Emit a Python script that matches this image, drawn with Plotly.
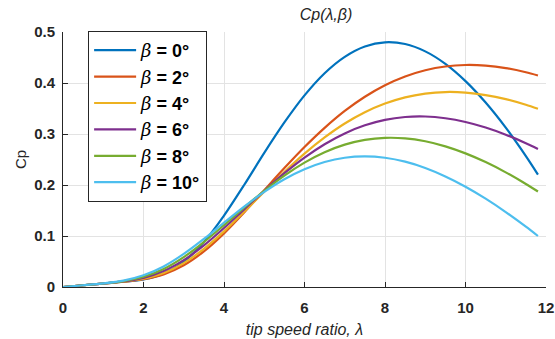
import plotly.graph_objects as go

tsr = [0, 0.5, 1, 1.5, 2, 2.5, 3, 3.5, 4, 4.5, 5, 5.5, 6, 6.5, 7, 7.5, 8, 8.5, 9, 9.5, 10, 10.5, 11, 11.5, 11.8]

cp_b0 = [0, 0.0034, 0.0068, 0.0103, 0.0150, 0.0261, 0.0495, 0.0882, 0.140, 0.200, 0.263, 0.3226, 0.3757, 0.4192, 0.4513, 0.4716, 0.4798, 0.4764, 0.462, 0.4375, 0.4037, 0.3617, 0.3125, 0.2567, 0.2205]
cp_b2 = [0, 0.0034, 0.0068, 0.0103, 0.0152, 0.0248, 0.0426, 0.0698, 0.1052, 0.1462, 0.1897, 0.2331, 0.2744, 0.312, 0.3452, 0.373, 0.3956, 0.4128, 0.425, 0.4324, 0.4353, 0.4341, 0.4293, 0.4211, 0.4148]
cp_b4 = [0, 0.0034, 0.0068, 0.0105, 0.0163, 0.0275, 0.0469, 0.0747, 0.109, 0.1474, 0.187, 0.2256, 0.2615, 0.2933, 0.3206, 0.3427, 0.3597, 0.3719, 0.3792, 0.3823, 0.3812, 0.3764, 0.3684, 0.3573, 0.3494]
cp_b6 = [0, 0.0034, 0.0068, 0.0109, 0.0179, 0.0312, 0.0526, 0.0815, 0.1156, 0.1522, 0.1886, 0.2231, 0.2538, 0.28, 0.3012, 0.317, 0.3277, 0.3333, 0.3343, 0.3309, 0.3236, 0.3127, 0.2987, 0.2819, 0.2706]
cp_b8 = [0, 0.0034, 0.0069, 0.0115, 0.0201, 0.0355, 0.0587, 0.0882, 0.1214, 0.1557, 0.1887, 0.2185, 0.2439, 0.2642, 0.2791, 0.2884, 0.2924, 0.2914, 0.2857, 0.2758, 0.262, 0.2449, 0.2248, 0.202, 0.1872]
cp_b10 = [0, 0.0034, 0.0071, 0.0125, 0.0229, 0.0403, 0.0648, 0.0942, 0.1261, 0.1576, 0.1864, 0.2113, 0.2309, 0.2451, 0.2535, 0.2561, 0.2534, 0.2457, 0.2334, 0.2168, 0.1967, 0.1733, 0.147, 0.1183, 0.100]

betas = ["0", "2", "4", "6", "8", "10"]
series = [cp_b0, cp_b2, cp_b4, cp_b6, cp_b8, cp_b10]
colors = ["#0072BD", "#D95319", "#EDB120", "#7E2F8E", "#77AC30", "#4DBEEE"]

x_ticks = [0, 2, 4, 6, 8, 10, 12]
y_ticks = [0, 0.1, 0.2, 0.3, 0.4, 0.5]
y_ticklabels = ["0", "0.1", "0.2", "0.3", "0.4", "0.5"]

FONT = "Liberation Sans, Arial, sans-serif"

fig = go.Figure()
for b, ys, c in zip(betas, series, colors):
    name = ("<span style='font-family:DejaVu Serif;font-weight:normal'><i>β</i></span>"
            "<b> = " + b + "°</b>")
    fig.add_trace(go.Scatter(x=tsr, y=ys, mode="lines", name=name,
                             line=dict(color=c, width=2.2, shape="spline", smoothing=0.8)))

fig.update_layout(
    width=555, height=339,
    margin=dict(l=63, r=9, t=32, b=52, autoexpand=False),
    paper_bgcolor="white", plot_bgcolor="white",
    title=dict(text="<i>Cp(λ,β)</i>", x=0.5445, xref="paper", xanchor="center",
               y=1 - 14 / 339, yref="container", yanchor="middle",
               font=dict(family=FONT, size=16, color="#262626")),
    font=dict(family=FONT, color="#262626"),
    showlegend=True,
    legend=dict(x=0.052, y=1.004, xanchor="left", yanchor="top",
                bgcolor="white", bordercolor="#262626", borderwidth=1,
                itemwidth=42, maxheight=320,
                font=dict(family=FONT, size=18, color="#000000"),
                tracegroupgap=0),
)
fig.update_xaxes(range=[0, 12], tickvals=x_ticks, ticktext=["<b>%d</b>" % v for v in x_ticks],
                 tickfont=dict(family=FONT, size=15, color="#262626"),
                 showline=True, linecolor="#262626", linewidth=1, mirror=False,
                 ticks="inside", ticklen=5, tickcolor="#262626", ticklabelstandoff=7,
                 showgrid=True, gridcolor="#e3e3e3", gridwidth=1, zeroline=False,
                 automargin=False,
                 title=dict(text="<i>tip speed ratio, λ</i>", standoff=8,
                            font=dict(family=FONT, size=16, color="#262626")))
fig.update_yaxes(range=[0, 0.5], tickvals=y_ticks, ticktext=["<b>%s</b>" % t for t in y_ticklabels],
                 tickfont=dict(family=FONT, size=15, color="#262626"),
                 showline=True, linecolor="#262626", linewidth=1, mirror=False,
                 ticks="inside", ticklen=5, tickcolor="#262626", ticklabelstandoff=4,
                 showgrid=True, gridcolor="#e3e3e3", gridwidth=1, zeroline=False,
                 automargin=False,
                 title=dict(text="Cp", standoff=3,
                            font=dict(family=FONT, size=15, color="#262626")))

fig.write_html("out.html")
